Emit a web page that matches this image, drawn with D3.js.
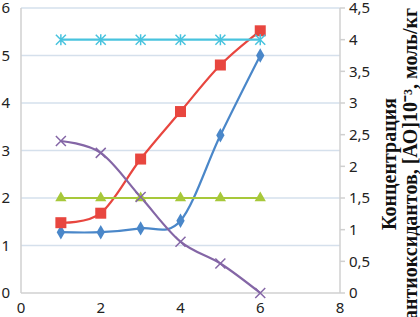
<!DOCTYPE html>
<html><head><meta charset="utf-8">
<script src="https://cdn.jsdelivr.net/npm/d3@7"></script>
<style>body{margin:0;background:#fff}svg{display:block}</style>
</head><body>
<svg id="c" width="420" height="317"></svg>
<script>
const xs = [1, 2, 3, 4, 5, 6];
const blueVals = [1.28, 1.28, 1.36, 1.52, 3.32, 5.0];
const redVals = [1.48, 1.68, 2.82, 3.82, 4.8, 5.52];
const purpleVals = [3.2, 2.95, 2.02, 1.08, 0.62, 0];
const cyanVals = [4, 4, 4, 4, 4, 4];     // right axis
const greenVals = [1.5, 1.5, 1.5, 1.5, 1.5, 1.5]; // right axis
const xTicks = [0, 2, 4, 6, 8];
const leftTicks = [0, 1, 2, 3, 4, 5, 6];
const rightTicks = [0, 0.5, 1, 1.5, 2, 2.5, 3, 3.5, 4, 4.5];
const titleLines = ["Концентрация", "антиоксидантов, [АО]10⁻³, моль/кг"];

const svg = d3.select("#c");
const L = 21, R = 340, T = 8, B = 293;
const x = d3.scaleLinear().domain([0, 8]).range([L, R]);
const yL = d3.scaleLinear().domain([0, 6]).range([B, T]);
const yR = d3.scaleLinear().domain([0, 4.5]).range([B, T]);
const fmt = d => String(d).replace(".", ",");

// gridlines
svg.append("g").selectAll("line").data(leftTicks.filter(d => d > 0)).join("line")
  .attr("x1", L).attr("x2", R).attr("y1", d => yL(d)).attr("y2", d => yL(d))
  .attr("stroke", "#d5e0ec").attr("stroke-width", 1.5);

// axes
const ax = svg.append("g").attr("font-family", "Noto Sans, sans-serif").attr("font-size", 15).attr("fill", "#222");
svg.append("line").attr("x1", L).attr("x2", R).attr("y1", B).attr("y2", B).attr("stroke", "#d0d0d0").attr("stroke-width", 1.5);
svg.append("line").attr("x1", L).attr("x2", L).attr("y1", T).attr("y2", B).attr("stroke", "#d0d0d0").attr("stroke-width", 1.5);
svg.append("line").attr("x1", R).attr("x2", R).attr("y1", T).attr("y2", B).attr("stroke", "#d0d0d0").attr("stroke-width", 1.5);
svg.append("g").selectAll("line").data(rightTicks).join("line")
  .attr("x1", R).attr("x2", R + 5).attr("y1", d => yR(d)).attr("y2", d => yR(d))
  .attr("stroke", "#d0d0d0").attr("stroke-width", 1.5);

ax.selectAll(".lt").data(leftTicks).join("text").attr("class", "lt")
  .attr("x", 10).attr("y", d => yL(d)).attr("dy", "0.36em").attr("text-anchor", "end").text(d => d);
ax.selectAll(".rt").data(rightTicks).join("text").attr("class", "rt")
  .attr("x", 349).attr("y", d => yR(d)).attr("dy", "0.36em").attr("text-anchor", "start").text(fmt);
ax.selectAll(".xt").data(xTicks).join("text").attr("class", "xt")
  .attr("x", d => x(d)).attr("y", 313).attr("text-anchor", "middle").text(d => d);

// title
const tg = svg.append("text").attr("transform", "translate(396,164) rotate(-90)")
  .attr("font-family", "Liberation Serif, serif").attr("font-weight", "bold").attr("font-size", 20)
  .attr("text-anchor", "middle").attr("fill", "#111");
tg.selectAll("tspan").data(titleLines).join("tspan").attr("x", 0).attr("dy", (d, i) => i ? 21 : 0).text(d => d);

const curve = d3.curveCatmullRom.alpha(0);
function series(vals, ys, color) {
  const data = xs.map((d, i) => [d, vals[i]]);
  svg.append("path").datum(data)
    .attr("d", d3.line().x(d => x(d[0])).y(d => ys(d[1])).curve(curve))
    .attr("fill", "none").attr("stroke", color).attr("stroke-width", 2.2);
  return data;
}
const blue = series(blueVals, yL, "#4a87c9");
const red = series(redVals, yL, "#e8463f");
const purple = series(purpleVals, yL, "#8466a6");
const cyan = series(cyanVals, yR, "#48c3de");
const green = series(greenVals, yR, "#a7c83a");

// markers
svg.append("g").selectAll("path").data(blue).join("path")
  .attr("transform", d => `translate(${x(d[0])},${yL(d[1])})`)
  .attr("d", d3.symbol(d3.symbolDiamond, 60)()).attr("fill", "#4a87c9");
svg.append("g").selectAll("rect").data(red).join("rect")
  .attr("x", d => x(d[0]) - 5.5).attr("y", d => yL(d[1]) - 5.5).attr("width", 11).attr("height", 11).attr("fill", "#e8463f");
svg.append("g").selectAll("path").data(green).join("path")
  .attr("transform", d => `translate(${x(d[0])},${yR(d[1])})`)
  .attr("d", d3.symbol(d3.symbolTriangle, 55)()).attr("fill", "#a7c83a");
svg.append("g").selectAll("path").data(cyan).join("path")
  .attr("transform", d => `translate(${x(d[0])},${yR(d[1])})`)
  .attr("d", "M-5,-5L5,5M-5,5L5,-5M0,-5.5L0,5.5").attr("stroke", "#48c3de").attr("stroke-width", 1.5).attr("fill", "none");
svg.append("g").selectAll("path").data(purple).join("path")
  .attr("transform", d => `translate(${x(d[0])},${yL(d[1])})`)
  .attr("d", "M-5,-5L5,5M-5,5L5,-5").attr("stroke", "#8466a6").attr("stroke-width", 1.5).attr("fill", "none");
</script>
</body></html>
